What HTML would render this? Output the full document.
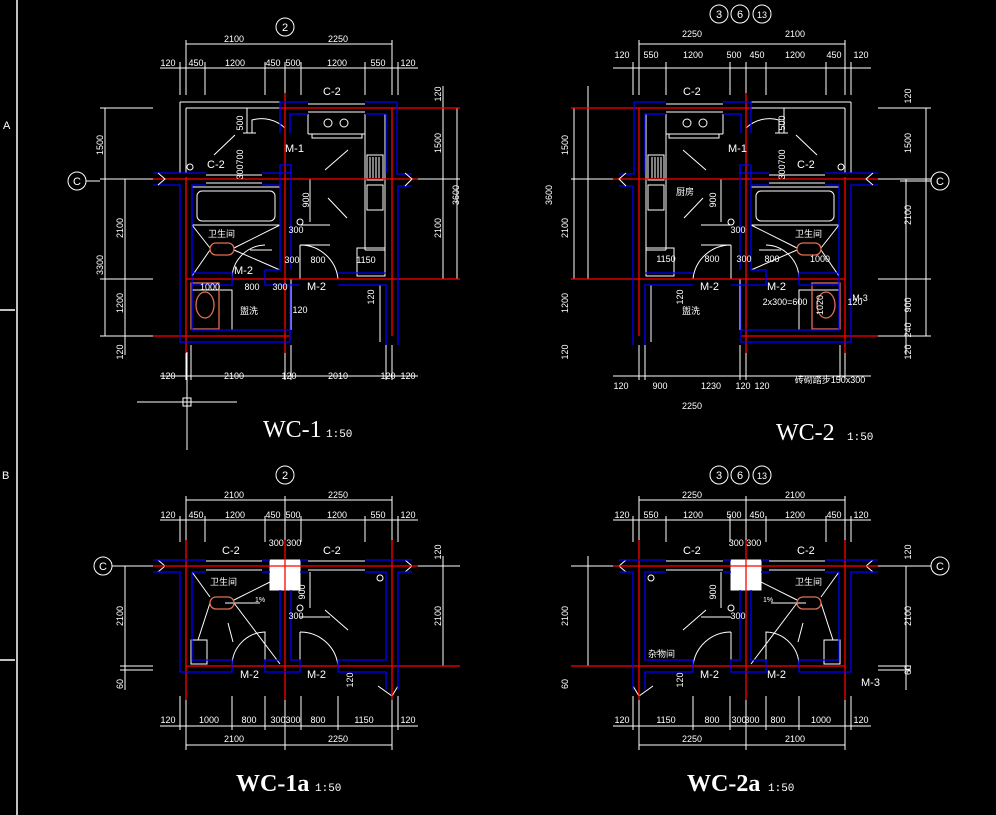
<!DOCTYPE html>
<html><head><meta charset="utf-8"><style>
html,body{margin:0;padding:0;background:#000;}
svg{display:block;}
text{font-family:"Liberation Sans","Noto Sans CJK SC",sans-serif;fill:#fff;}
.d{font-size:9px;}
.t{font-family:"Liberation Serif","Noto Serif CJK SC",serif;font-size:24px;}
.s{font-family:"Liberation Mono",monospace;font-size:11px;}
.l{font-size:11px;}
</style></head><body>
<svg width="996" height="815" viewBox="0 0 996 815" xmlns="http://www.w3.org/2000/svg">
<defs>
<g id="p1">
 <g stroke="#fff" stroke-width="1" fill="none">
  <path d="M186,44H392M160,68H418"/>
  <path d="M186,40V95M205,62V95M265,62V95M285,62V95M301,62V95M365,62V95M392,40V95M180,62V95M398,62V95"/>
  <path d="M105,108V336M125,179V355M100,108H153M100,179H153M100,279H153M100,336H153"/>
  <path d="M443,86V279M418,108H460M418,179H460M418,279H460M457,108V279"/>
  <path d="M160,376H418M186,345V380M191,345V380M285,345V380M291,345V380M386,345V380M392,345V380"/>
  <path d="M180,102H280M180,102V173M186,108H280M186,108V173"/>
  <path d="M247,108V133M243,133H256"/>
  <path d="M308,104H365M308,112H365"/>
  <path d="M206,175H262M206,183H262"/>
  <path d="M365,114V250M385,114V250M365,250H385M308,114V134M365,114V134M308,134H365M312,134V138H362V134"/>
  <circle cx="328" cy="123" r="4"/><circle cx="344" cy="123" r="4"/>
  <path d="M367,155H383V180H367ZM367,185H383V210H367Z"/>
  <path d="M370,157V178M373,157V178M376,157V178M379,157V178"/>
  <path d="M357,248H385V276H357Z"/>
  <rect x="192" y="187" width="88" height="38"/>
  <rect x="197" y="191" width="78" height="30" rx="5"/>
  <path d="M192,225L210,248M280,225L234,248M192,276L210,250M280,270L234,250"/>
  <path d="M232,279A34,34 0 0 1 265,245"/>
  <path d="M300,245A38,38 0 0 1 338,279M300,245V279"/>
  <path d="M252,133V120A34,34 0 0 1 285,128"/>
  <path d="M300,225H330M300,245H330M291,279H338"/>
  <path d="M214,155L235,135M325,170L348,150M328,198L347,218M250,250L272,250"/>
  <path d="M310,179V222M305,179H315"/>
  <circle cx="190" cy="167" r="3"/><circle cx="300" cy="222" r="3"/>
  <path d="M192,290V330M192,290H232V330"/>
  <path d="M291,279V330M380,285V342"/>
 </g>
 <g stroke="#e07050" stroke-width="1.3" fill="none">
  <rect x="210" y="243" width="24" height="12" rx="6"/>
  <rect x="191" y="283" width="28" height="46"/>
  <ellipse cx="205" cy="305" rx="9" ry="13"/>
 </g>
 <g stroke="#ff0000" stroke-width="1.3" fill="none">
  <path d="M186,177V353M285,93V353M392,108V336"/>
  <path d="M280,108H460M153,179H418M186,279H460M153,336H290M308,108H365M206,179H262"/>
 </g>
 <g stroke="#0000ff" stroke-width="1.3" fill="none">
  <path d="M280,133V102H308M365,102H397V174H412M290,133V114H308M365,114H386V174"/>
  <path d="M153,173H206M262,173H291V165H280M153,185H180V342H290V330H192V185H206M262,185H280"/>
  <path d="M280,165V270H265V285H290V330M291,165V270"/>
  <path d="M192,273H232V285H192M300,285H290M338,273H386M338,285H386V345M398,186V345M412,186H398"/>
 </g>
 <path d="M158,185L165,179L158,173M405,186L412,179L405,173" stroke="#fff" fill="none"/>
</g>
<g id="p2">
 <g stroke="#fff" stroke-width="1" fill="none">
  <path d="M186,500H392M160,520H418M160,726H418M186,745H392"/>
  <path d="M186,496V542M205,516V542M265,516V542M285,496V542M301,516V542M365,516V542M392,496V542M180,516V542M398,516V542"/>
  <path d="M180,696V730M186,696V750M232,696V730M265,696V730M285,696V750M301,696V730M338,696V730M392,696V750M398,696V730"/>
  <path d="M125,566V690M120,566H153M120,666H153M120,670H153M418,566H460M418,666H460M443,556V666"/>
  <path d="M206,561H262M206,570H262M308,561H365M308,570H365"/>
  <rect x="270" y="560" width="30" height="30" fill="#fff"/>
  <path d="M192,572L210,597M270,582L234,600M234,603L280,664M210,603L198,640M232,666A34,34 0 0 1 265,632V666M300,632A38,38 0 0 1 338,666M300,632V666"/>
  <path d="M300,617H330M310,572V608M225,603H260M325,610L348,630M228,623L233,642"/>
  <rect x="191" y="640" width="16" height="24"/>
  <circle cx="300" cy="608" r="3"/><circle cx="380" cy="578" r="3"/>
  <path d="M158,572L165,566L158,560M405,572L412,566L405,560M378,686L392,696L398,686"/>
 </g>
 <g stroke="#e07050" stroke-width="1.3" fill="none"><rect x="210" y="597" width="24" height="12" rx="6"/></g>
 <g stroke="#ff0000" stroke-width="1.3" fill="none">
  <path d="M186,540V700M285,540V700M392,540V700M153,566H418M186,666H460"/>
 </g>
 <g stroke="#0000ff" stroke-width="1.3" fill="none">
  <path d="M153,560H206M262,560H270M300,560H308M365,560H412M153,572H180V672H232V660H192V572H206M262,572H270M300,572H308M365,572H386V660H338V672H386V690M398,572H412M398,572V690"/>
  <path d="M280,590V660H265V672H300V660H291V590"/>
 </g>
</g>
</defs>

<rect width="996" height="815" fill="#000"/>
<path d="M17,0V815M0,310H15M0,660H15" stroke="#fff" stroke-width="1.5"/>
<text x="3" y="129" class="l">A</text><text x="2" y="479" class="l">B</text>

<use href="#p1"/>
<use href="#p1" transform="matrix(-1 0 0 1 1031 0)"/>
<use href="#p2"/>
<use href="#p2" transform="matrix(-1 0 0 1 1031 0)"/>

<path d="M137,402H237M187,352V450M183,398h8v8h-8z" stroke="#fff" fill="none"/>

<g stroke="#fff" fill="none">
 <circle cx="285" cy="27" r="9"/><circle cx="77" cy="181" r="9"/><circle cx="940" cy="181" r="9"/>
 <circle cx="719" cy="14" r="9"/><circle cx="740" cy="14" r="9"/><circle cx="762" cy="14" r="9"/>
 <circle cx="285" cy="475" r="9"/><circle cx="103" cy="566" r="9"/><circle cx="940" cy="566" r="9"/>
 <circle cx="719" cy="475" r="9"/><circle cx="740" cy="475" r="9"/><circle cx="762" cy="475" r="9"/>
 <path d="M86,181H100M931,181H900M112,566H120M931,566H900"/>
</g>
<g class="l" text-anchor="middle">
 <text x="285" y="31">2</text><text x="77" y="185">C</text><text x="940" y="185">C</text>
 <text x="719" y="18">3</text><text x="740" y="18">6</text><text x="762" y="18" font-size="9">13</text>
 <text x="285" y="479">2</text><text x="103" y="570">C</text><text x="940" y="570">C</text>
 <text x="719" y="479">3</text><text x="740" y="479">6</text><text x="762" y="479" font-size="9">13</text>
</g>

<g class="d" text-anchor="middle">
 <text x="234" y="42">2100</text><text x="338" y="42">2250</text>
 <text x="168" y="66">120</text><text x="196" y="66">450</text><text x="235" y="66">1200</text><text x="273" y="66">450</text><text x="293" y="66">500</text><text x="337" y="66">1200</text><text x="378" y="66">550</text><text x="408" y="66">120</text>
 <text x="168" y="379">120</text><text x="234" y="379">2100</text><text x="289" y="379">120</text><text x="338" y="379">2010</text><text x="388" y="379">120</text><text x="408" y="379">120</text>
 <text x="252" y="290">800</text><text x="210" y="290">1000</text><text x="280" y="290">300</text><text x="318" y="263">800</text><text x="292" y="263">300</text><text x="366" y="263">1150</text><text x="296" y="233">300</text><text x="300" y="313">120</text>
</g>
<g class="d" text-anchor="middle">
 <text transform="translate(103,145) rotate(-90)">1500</text><text transform="translate(103,265) rotate(-90)">3300</text>
 <text transform="translate(123,228) rotate(-90)">2100</text><text transform="translate(123,303) rotate(-90)">1200</text><text transform="translate(123,352) rotate(-90)">120</text>
 <text transform="translate(441,143) rotate(-90)">1500</text><text transform="translate(441,228) rotate(-90)">2100</text><text transform="translate(459,195) rotate(-90)">3600</text><text transform="translate(441,94) rotate(-90)">120</text>
 <text transform="translate(243,123) rotate(-90)">500</text><text transform="translate(243,157) rotate(-90)">700</text><text transform="translate(243,172) rotate(-90)">300</text><text transform="translate(309,200) rotate(-90)">900</text><text transform="translate(374,297) rotate(-90)">120</text>
</g>
<g class="s">
 <text x="323" y="95">C-2</text><text x="207" y="168">C-2</text><text x="285" y="152">M-1</text><text x="234" y="274">M-2</text><text x="307" y="290">M-2</text>
 <text x="208" y="237" font-size="9">卫生间</text><text x="240" y="314" font-size="9">盥洗</text>
</g>
<text x="263" y="437" class="t">WC-1</text><text x="326" y="437" class="s">1:50</text>

<g class="d" text-anchor="middle">
 <text x="692" y="37">2250</text><text x="795" y="37">2100</text>
 <text x="622" y="58">120</text><text x="651" y="58">550</text><text x="693" y="58">1200</text><text x="734" y="58">500</text><text x="757" y="58">450</text><text x="795" y="58">1200</text><text x="834" y="58">450</text><text x="861" y="58">120</text>
 <text x="621" y="389">120</text><text x="660" y="389">900</text><text x="711" y="389">1230</text><text x="743" y="389">120</text><text x="762" y="389">120</text><text x="692" y="409">2250</text>
 <text x="666" y="262">1150</text><text x="712" y="262">800</text><text x="744" y="262">300</text><text x="772" y="262">800</text><text x="820" y="262">1000</text><text x="738" y="233">300</text>
 <text x="785" y="305">2x300=600</text><text x="855" y="305">120</text><text x="860" y="301">M-3</text>
 <text x="830" y="383">砖砌踏步150x300</text>
</g>
<g class="d" text-anchor="middle">
 <text transform="translate(568,145) rotate(-90)">1500</text><text transform="translate(568,228) rotate(-90)">2100</text><text transform="translate(568,303) rotate(-90)">1200</text><text transform="translate(568,352) rotate(-90)">120</text><text transform="translate(552,195) rotate(-90)">3600</text>
 <text transform="translate(911,143) rotate(-90)">1500</text><text transform="translate(911,215) rotate(-90)">2100</text><text transform="translate(911,305) rotate(-90)">900</text><text transform="translate(911,352) rotate(-90)">120</text><text transform="translate(911,96) rotate(-90)">120</text><text transform="translate(911,330) rotate(-90)">240</text>
 <text transform="translate(785,123) rotate(-90)">500</text><text transform="translate(785,157) rotate(-90)">700</text><text transform="translate(785,172) rotate(-90)">300</text><text transform="translate(716,200) rotate(-90)">900</text><text transform="translate(683,297) rotate(-90)">120</text><text transform="translate(823,305) rotate(-90)">1020</text>
</g>
<g class="s">
 <text x="683" y="95">C-2</text><text x="797" y="168">C-2</text><text x="728" y="152">M-1</text><text x="700" y="290">M-2</text><text x="767" y="290">M-2</text>
 <text x="795" y="237" font-size="9">卫生间</text><text x="682" y="314" font-size="9">盥洗</text><text x="676" y="195" font-size="9">厨房</text>
</g>
<text x="776" y="440" class="t">WC-2</text><text x="847" y="440" class="s">1:50</text>

<g class="d" text-anchor="middle">
 <text x="234" y="498">2100</text><text x="338" y="498">2250</text>
 <text x="168" y="518">120</text><text x="196" y="518">450</text><text x="235" y="518">1200</text><text x="273" y="518">450</text><text x="293" y="518">500</text><text x="337" y="518">1200</text><text x="378" y="518">550</text><text x="408" y="518">120</text>
 <text x="168" y="723">120</text><text x="209" y="723">1000</text><text x="249" y="723">800</text><text x="278" y="723">300</text><text x="293" y="723">300</text><text x="318" y="723">800</text><text x="364" y="723">1150</text><text x="408" y="723">120</text>
 <text x="234" y="742">2100</text><text x="338" y="742">2250</text>
 <text x="285" y="546">300 300</text><text x="296" y="619">300</text><text x="260" y="602" font-size="7">1%</text>
</g>
<g class="d" text-anchor="middle">
 <text transform="translate(123,616) rotate(-90)">2100</text><text transform="translate(123,684) rotate(-90)">60</text>
 <text transform="translate(441,616) rotate(-90)">2100</text><text transform="translate(441,552) rotate(-90)">120</text>
 <text transform="translate(305,592) rotate(-90)">900</text><text transform="translate(353,680) rotate(-90)">120</text>
</g>
<g class="s">
 <text x="222" y="554">C-2</text><text x="323" y="554">C-2</text><text x="240" y="678">M-2</text><text x="307" y="678">M-2</text>
 <text x="210" y="585" font-size="9">卫生间</text>
</g>
<text x="236" y="791" class="t" font-weight="bold">WC-1a</text><text x="315" y="791" class="s">1:50</text>

<g class="d" text-anchor="middle">
 <text x="692" y="498">2250</text><text x="795" y="498">2100</text>
 <text x="622" y="518">120</text><text x="651" y="518">550</text><text x="693" y="518">1200</text><text x="734" y="518">500</text><text x="757" y="518">450</text><text x="795" y="518">1200</text><text x="834" y="518">450</text><text x="861" y="518">120</text>
 <text x="622" y="723">120</text><text x="666" y="723">1150</text><text x="712" y="723">800</text><text x="739" y="723">300</text><text x="752" y="723">300</text><text x="778" y="723">800</text><text x="821" y="723">1000</text><text x="861" y="723">120</text>
 <text x="692" y="742">2250</text><text x="795" y="742">2100</text>
 <text x="745" y="546">300 300</text><text x="738" y="619">300</text><text x="768" y="602" font-size="7">1%</text>
</g>
<g class="d" text-anchor="middle">
 <text transform="translate(568,616) rotate(-90)">2100</text><text transform="translate(568,684) rotate(-90)">60</text>
 <text transform="translate(911,616) rotate(-90)">2100</text><text transform="translate(911,552) rotate(-90)">120</text><text transform="translate(911,670) rotate(-90)">60</text>
 <text transform="translate(716,592) rotate(-90)">900</text><text transform="translate(683,680) rotate(-90)">120</text>
</g>
<g class="s">
 <text x="683" y="554">C-2</text><text x="797" y="554">C-2</text><text x="700" y="678">M-2</text><text x="767" y="678">M-2</text><text x="861" y="686">M-3</text>
 <text x="795" y="585" font-size="9">卫生间</text><text x="648" y="657" font-size="9">杂物间</text>
</g>
<text x="687" y="791" class="t" font-weight="bold">WC-2a</text><text x="768" y="791" class="s">1:50</text>
</svg>
</body></html>
